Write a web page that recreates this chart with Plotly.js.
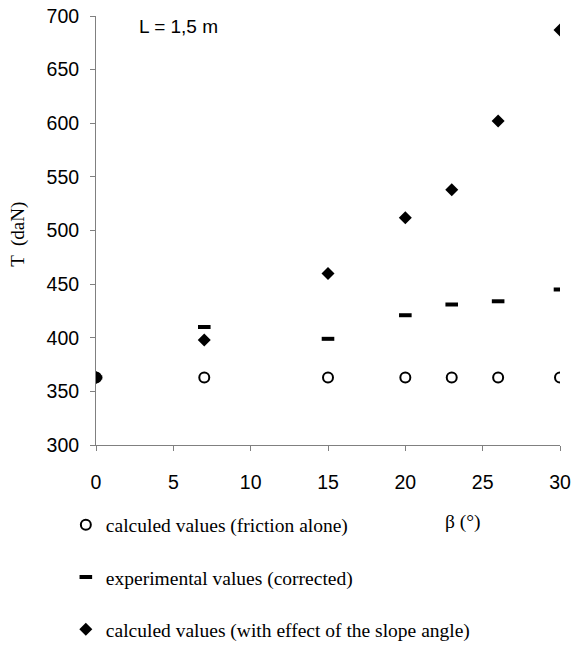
<!DOCTYPE html>
<html>
<head>
<meta charset="utf-8">
<script src="https://cdn.plot.ly/plotly-3.0.1.min.js"></script>
<style>html,body{margin:0;padding:0;background:#fff;}#chart{width:573px;height:650px;}</style>
</head>
<body>
<div id="chart"></div>
<script>
const beta = [0, 7, 15, 20, 23, 26, 30];
const frictionAlone = [363, 363, 363, 363, 363, 363, 363];
const experimental = [363, 410, 399, 421, 431, 434, 445];
const withSlope = [363, 398, 460, 512, 538, 602, 687];
const names = [
  'calculed values (friction alone)',
  'experimental values (corrected)',
  'calculed values (with effect of the slope angle)'
];
const yTicks = [300, 350, 400, 450, 500, 550, 600, 650, 700];
const xTicks = [0, 5, 10, 15, 20, 25, 30];

const traces = [
  {x: beta, y: frictionAlone, name: names[0], type: 'scatter', mode: 'markers', legendgroup: 'a',
   marker: {symbol: 'circle-open', size: 10, color: '#000', line: {width: 2, color: '#000'}}},
  {x: beta, y: experimental, name: names[1], type: 'scatter', mode: 'markers', legendgroup: 'b',
   marker: {symbol: 'line-ew', size: 9, color: '#000', line: {width: 4, color: '#000'}}},
  {x: beta, y: withSlope, name: names[2], type: 'scatter', mode: 'markers', legendgroup: 'c',
   marker: {symbol: 'diamond', size: 10, color: '#000', line: {width: 0}}},
  // empty helper trace so the overlay axes (short grey tick marks) are drawn
  {x: [], y: [], xaxis: 'x2', yaxis: 'y2', type: 'scatter', mode: 'markers', showlegend: false, hoverinfo: 'skip'}
];

const tickFont = {family: 'Liberation Sans, Arial, sans-serif', size: 19.5, color: '#000'};

const layout = {
  width: 573, height: 650,
  margin: {l: 96, r: 13, t: 16, b: 205, autoexpand: false},
  paper_bgcolor: '#fff', plot_bgcolor: '#fff',
  showlegend: true,
  legend: {x: -0.065, y: -0.141, xanchor: 'left', yanchor: 'top', orientation: 'v',
    font: {family: 'Liberation Serif, Times New Roman, serif', size: 19.5, color: '#000'},
    tracegroupgap: 24, itemwidth: 30, bgcolor: 'rgba(0,0,0,0)'},
  xaxis: {range: [0, 30], tickvals: xTicks, ticktext: xTicks.map(String), ticks: 'outside', ticklen: 20,
    tickcolor: 'rgba(0,0,0,0)', showline: true, linecolor: '#808080', linewidth: 1, showgrid: false, zeroline: false,
    tickfont: tickFont},
  yaxis: {range: [300, 700], tickvals: yTicks, ticktext: yTicks.map(String), ticks: 'outside', ticklen: 12,
    tickcolor: 'rgba(0,0,0,0)', showline: true, linecolor: '#808080', linewidth: 1, showgrid: false, zeroline: false,
    tickfont: tickFont},
  xaxis2: {range: [0, 30], overlaying: 'x', anchor: 'y2', side: 'bottom', tickvals: xTicks, showticklabels: false,
    ticks: 'outside', ticklen: 5, tickcolor: '#808080', showline: false, showgrid: false, zeroline: false},
  yaxis2: {range: [300, 700], overlaying: 'y', anchor: 'x2', side: 'left', tickvals: yTicks, showticklabels: false,
    ticks: 'outside', ticklen: 5, tickcolor: '#808080', showline: false, showgrid: false, zeroline: false},
  annotations: [
    {text: 'L = 1,5 m', xref: 'paper', yref: 'paper', x: 0.088, y: 0.975, xanchor: 'left', yanchor: 'middle',
     showarrow: false, font: {family: 'Liberation Sans, Arial, sans-serif', size: 19, color: '#000'}},
    {text: 'β (°)', xref: 'paper', yref: 'paper', x: 0.79, y: -0.18, xanchor: 'center', yanchor: 'middle',
     showarrow: false, font: {family: 'Liberation Serif, Times New Roman, serif', size: 19.5, color: '#000'}},
    {text: 'T  (daN)', xref: 'paper', yref: 'paper', x: -0.168, y: 0.49, xanchor: 'center', yanchor: 'middle',
     textangle: -90, showarrow: false, font: {family: 'Liberation Serif, Times New Roman, serif', size: 19, color: '#000'}}
  ]
};

Plotly.newPlot('chart', traces, layout, {displayModeBar: false, staticPlot: true});
</script>
</body>
</html>
